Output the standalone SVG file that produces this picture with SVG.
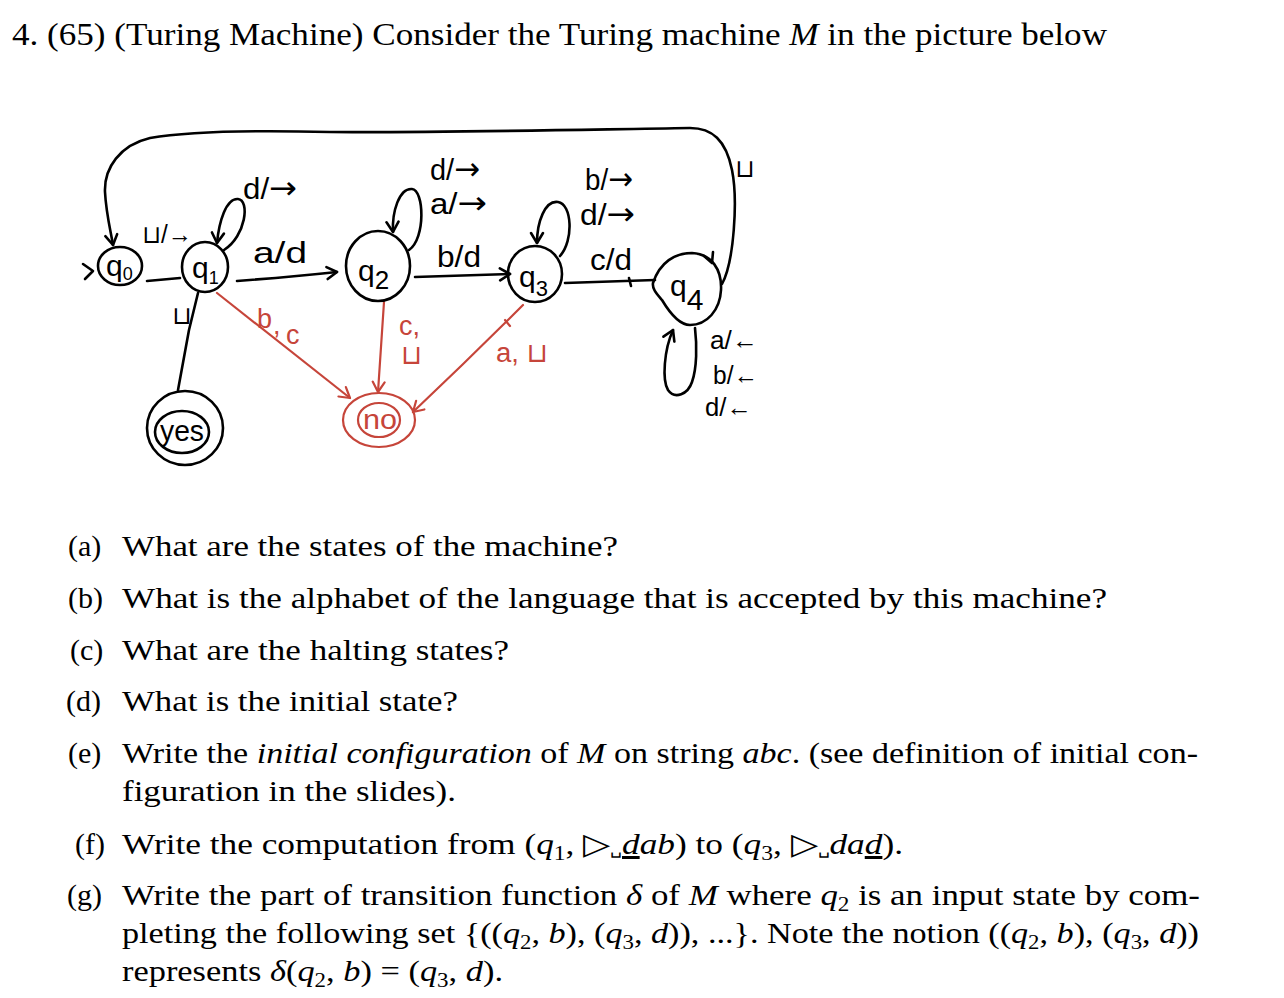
<svg xmlns="http://www.w3.org/2000/svg" width="1284" height="998" viewBox="0 0 1284 998">
<defs>
<style>
.t{font-family:"Liberation Serif","Times New Roman",serif;font-size:30px;fill:#000}
.ti{font-family:"Liberation Serif","Times New Roman",serif;font-size:31px;fill:#000}
.i{font-style:italic}
.sub{font-size:20px}
.h{font-family:"Liberation Sans","DejaVu Sans",sans-serif;font-size:30px;fill:#000}
.hs{font-family:"Liberation Sans","DejaVu Sans",sans-serif;font-size:25px;fill:#000}
.hr{font-family:"Liberation Sans","DejaVu Sans",sans-serif;font-size:27px;fill:#c6453a}
.ar{font-family:"DejaVu Sans",sans-serif;font-size:32px}
.s{fill:none;stroke:#000;stroke-width:2.6;stroke-linecap:round;stroke-linejoin:round}
.r{fill:none;stroke:#c6453a;stroke-width:2.2;stroke-linecap:round;stroke-linejoin:round}
</style>
<marker id="ab" markerWidth="16" markerHeight="16" refX="12" refY="8" orient="auto" markerUnits="userSpaceOnUse"><path d="M2,2 L12,8 L2,14" fill="none" stroke="#000" stroke-width="2.6" stroke-linecap="round" stroke-linejoin="round"/></marker>
<marker id="ar" markerWidth="16" markerHeight="16" refX="12" refY="8" orient="auto" markerUnits="userSpaceOnUse"><path d="M2,2 L12,8 L2,14" fill="none" stroke="#c6453a" stroke-width="2.2" stroke-linecap="round" stroke-linejoin="round"/></marker>
</defs>
<rect width="1284" height="998" fill="#fff"/>

<text class="ti" x="12" y="45" textLength="1095" lengthAdjust="spacingAndGlyphs">4. (65) (Turing Machine) Consider the Turing machine <tspan class="i">M</tspan> in the picture below</text>

<g id="connectors">
  <path class="s" d="M83,264 L93,271 L85,279"/>
  <path class="s" d="M147,281 L180,278"/>
  <path class="s" d="M224,250 C246,236 250,200 238,199 C226,198 219,222 217,243" marker-end="url(#ab)"/>
  <path class="s" d="M237,281 Q290,277 337,272" marker-end="url(#ab)"/>
  <path class="s" d="M409,250 C426,238 424,190 412,189 C399,188 392,212 393,232" marker-end="url(#ab)"/>
  <path class="s" d="M415,277 L510,274" marker-end="url(#ab)"/>
  <path class="s" d="M560,256 C574,240 572,204 558,202 C545,200 537,222 537,243" marker-end="url(#ab)"/>
  <path class="s" d="M565,283 L655,280"/>
  <path class="s" d="M629,278 L631,286"/>
  <path class="s" d="M722,284 C734,262 738,200 732,170 C726,140 712,128 690,128 C560,130 420,133 330,132 C250,130 190,131 150,138 C120,145 104,168 105,192 C106,212 110,228 113,245" marker-end="url(#ab)"/>
  <path class="s" d="M704,256 L712,263 L713,252"/>
  <path class="s" d="M695,328 C697,345 697,368 692,382 C688,394 675,400 668,390 C662,380 664,350 673,330" marker-end="url(#ab)"/>
  <path class="s" d="M198,293 L189,330 L178,390"/>
  <path class="r" d="M217,293 L350,398" marker-end="url(#ar)"/>
  <path class="r" d="M384,302 L378,392" marker-end="url(#ar)"/>
  <path class="r" d="M523,305 Q470,358 413,412" marker-end="url(#ar)"/>
  <path class="r" d="M505,320 L510,326"/>
</g>

<g id="labels">
  <text class="hs" x="142" y="243" textLength="50" lengthAdjust="spacingAndGlyphs">⊔/→</text>
  <text class="h" x="243" y="199" textLength="54" lengthAdjust="spacingAndGlyphs">d/<tspan class="ar">→</tspan></text>
  <text class="h" x="253" y="263" textLength="54" lengthAdjust="spacingAndGlyphs">a/d</text>
  <text class="h" x="430" y="180" textLength="50" lengthAdjust="spacingAndGlyphs">d/<tspan class="ar">→</tspan></text>
  <text class="h" x="430" y="214" textLength="57" lengthAdjust="spacingAndGlyphs">a/<tspan class="ar">→</tspan></text>
  <text class="h" x="437" y="267" textLength="44" lengthAdjust="spacingAndGlyphs">b/d</text>
  <text class="h" x="585" y="190" textLength="48" lengthAdjust="spacingAndGlyphs">b/<tspan class="ar">→</tspan></text>
  <text class="h" x="580" y="225" textLength="55" lengthAdjust="spacingAndGlyphs">d/<tspan class="ar">→</tspan></text>
  <text class="h" x="590" y="270" textLength="42" lengthAdjust="spacingAndGlyphs">c/d</text>
  <text class="hs" x="735" y="177" font-size="24">⊔</text>
  <text class="hs" x="710" y="349" textLength="48" lengthAdjust="spacingAndGlyphs">a/←</text>
  <text class="hs" x="713" y="384" textLength="45" lengthAdjust="spacingAndGlyphs">b/←</text>
  <text class="hs" x="705" y="416" textLength="47" lengthAdjust="spacingAndGlyphs">d/←</text>
  <text class="hs" x="172" y="324" font-size="22">⊔</text>
  <text class="hr" x="257" y="328">b</text>
  <text class="hr" x="273" y="334">,</text>
  <text class="hr" x="286" y="344">c</text>
  <text class="hr" x="399" y="335">c,</text>
  <text class="hr" x="401" y="364" font-size="22">⊔</text>
  <text class="hr" x="496" y="362" textLength="52" lengthAdjust="spacingAndGlyphs">a, ⊔</text>
</g>

<g id="q0">
  <ellipse class="s" cx="120" cy="266" rx="22" ry="19"/>
  <text class="h" x="106" y="276" font-size="30">q<tspan font-size="18" dy="4">0</tspan></text>
</g>
<g id="q1">
  <ellipse class="s" cx="205" cy="267" rx="23" ry="25"/>
  <text class="h" x="192" y="278" font-size="32">q<tspan font-size="18" dy="6">1</tspan></text>
</g>
<g id="q2">
  <ellipse class="s" cx="378" cy="266" rx="32" ry="35"/>
  <text class="h" x="358" y="281" font-size="38">q<tspan font-size="26" dy="8">2</tspan></text>
</g>
<g id="q3">
  <ellipse class="s" cx="535" cy="274" rx="27" ry="28"/>
  <text class="h" x="519" y="287" font-size="34">q<tspan font-size="22" dy="9">3</tspan></text>
</g>
<g id="q4">
  <path class="s" d="M653,283 C660,262 675,253 692,253 C712,254 722,270 721,290 C720,310 707,325 690,325 C678,325 668,310 662,300 C657,294 652,289 653,283 Z"/>
  <text class="h" x="670" y="296" font-size="36">q<tspan font-size="30" dy="14">4</tspan></text>
</g>
<g id="yes">
  <ellipse class="s" cx="185" cy="428" rx="38" ry="37"/>
  <ellipse class="s" cx="182" cy="432" rx="27" ry="21"/>
  <text class="h" x="182" y="441" font-size="26" text-anchor="middle" textLength="44" lengthAdjust="spacingAndGlyphs">yes</text>
</g>
<g id="no">
  <ellipse class="r" cx="379" cy="420" rx="36" ry="27"/>
  <ellipse class="r" cx="379" cy="420" rx="21" ry="17"/>
  <text class="hr" x="380" y="429" font-size="26" text-anchor="middle" textLength="34" lengthAdjust="spacingAndGlyphs">no</text>
</g>

<g id="questions">
  <text class="t" x="68" y="556">(a)</text>
  <text class="t" x="122" y="556" textLength="496" lengthAdjust="spacingAndGlyphs">What are the states of the machine?</text>
  <text class="t" x="68" y="608">(b)</text>
  <text class="t" x="122" y="608" textLength="985" lengthAdjust="spacingAndGlyphs">What is the alphabet of the language that is accepted by this machine?</text>
  <text class="t" x="70" y="660">(c)</text>
  <text class="t" x="122" y="660" textLength="387" lengthAdjust="spacingAndGlyphs">What are the halting states?</text>
  <text class="t" x="66" y="711">(d)</text>
  <text class="t" x="122" y="711" textLength="336" lengthAdjust="spacingAndGlyphs">What is the initial state?</text>
  <text class="t" x="68" y="763">(e)</text>
  <text class="t" x="122" y="763" textLength="1076" lengthAdjust="spacingAndGlyphs">Write the <tspan class="i">initial configuration</tspan> of <tspan class="i">M</tspan> on string <tspan class="i">abc</tspan>. (see definition of initial con-</text>
  <text class="t" x="122" y="801" textLength="334" lengthAdjust="spacingAndGlyphs">figuration in the slides).</text>
  <text class="t" x="75" y="854">(f)</text>
  <text class="t" x="122" y="854" textLength="781" lengthAdjust="spacingAndGlyphs">Write the computation from (<tspan class="i">q</tspan><tspan class="sub" dy="6">1</tspan><tspan dy="-6">, ▷</tspan><tspan font-size="16">␣</tspan><tspan class="i" text-decoration="underline">d</tspan><tspan class="i">ab</tspan>) to (<tspan class="i">q</tspan><tspan class="sub" dy="6">3</tspan><tspan dy="-6">, ▷</tspan><tspan font-size="16">␣</tspan><tspan class="i">da</tspan><tspan class="i" text-decoration="underline">d</tspan>).</text>
  <text class="t" x="67" y="905">(g)</text>
  <text class="t" x="122" y="905" textLength="1078" lengthAdjust="spacingAndGlyphs">Write the part of transition function <tspan class="i">δ</tspan> of <tspan class="i">M</tspan> where <tspan class="i">q</tspan><tspan class="sub" dy="6">2</tspan><tspan dy="-6"> is an input state by com-</tspan></text>
  <text class="t" x="122" y="943" textLength="1077" lengthAdjust="spacingAndGlyphs">pleting the following set {((<tspan class="i">q</tspan><tspan class="sub" dy="6">2</tspan><tspan dy="-6">, </tspan><tspan class="i">b</tspan>), (<tspan class="i">q</tspan><tspan class="sub" dy="6">3</tspan><tspan dy="-6">, </tspan><tspan class="i">d</tspan>)), ...}. Note the notion ((<tspan class="i">q</tspan><tspan class="sub" dy="6">2</tspan><tspan dy="-6">, </tspan><tspan class="i">b</tspan>), (<tspan class="i">q</tspan><tspan class="sub" dy="6">3</tspan><tspan dy="-6">, </tspan><tspan class="i">d</tspan>))</text>
  <text class="t" x="122" y="981" textLength="381" lengthAdjust="spacingAndGlyphs">represents <tspan class="i">δ</tspan>(<tspan class="i">q</tspan><tspan class="sub" dy="6">2</tspan><tspan dy="-6">, </tspan><tspan class="i">b</tspan>) = (<tspan class="i">q</tspan><tspan class="sub" dy="6">3</tspan><tspan dy="-6">, </tspan><tspan class="i">d</tspan>).</text>
</g>
</svg>
